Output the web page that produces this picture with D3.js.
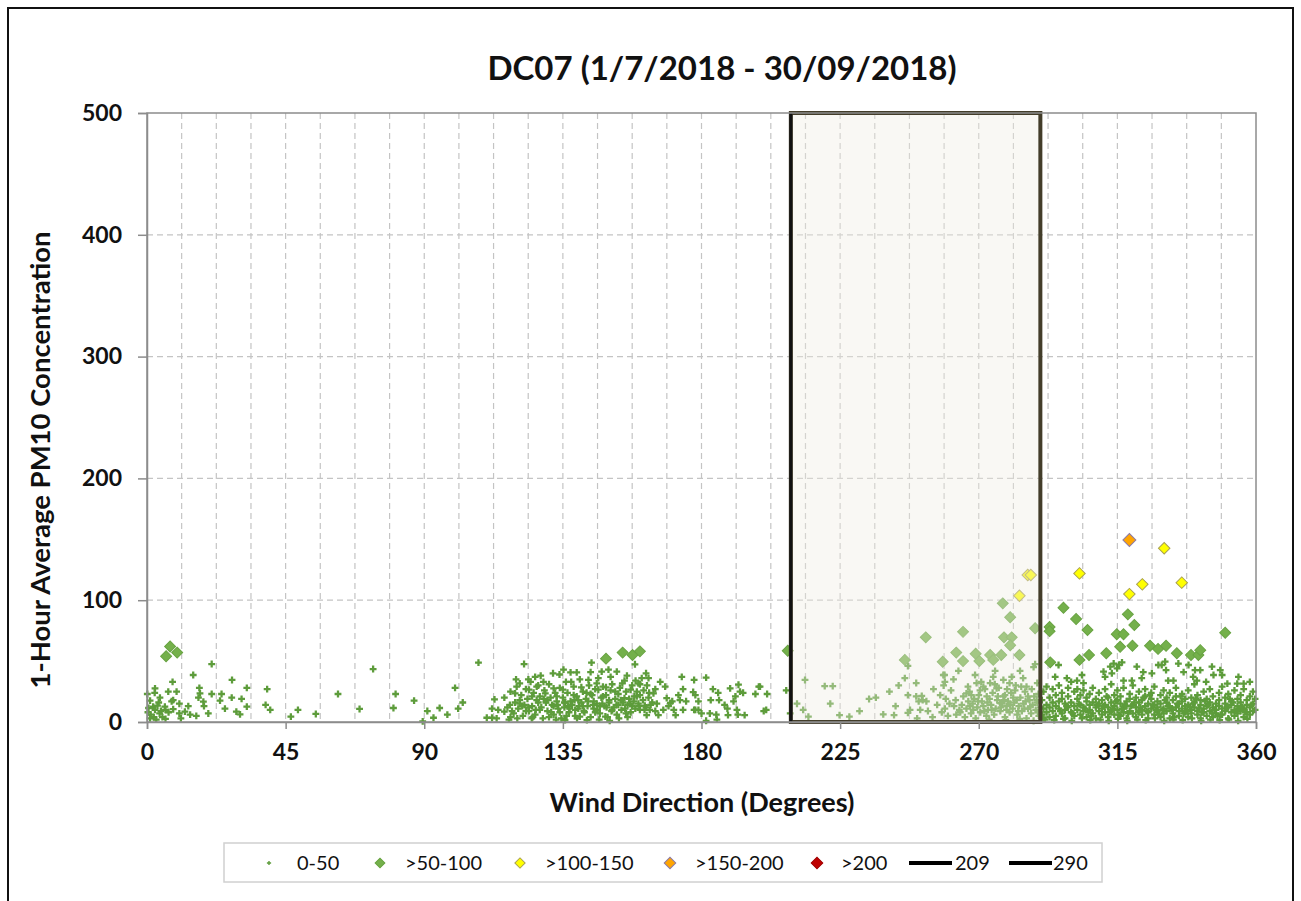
<!DOCTYPE html>
<html>
<head>
<meta charset="utf-8">
<script src="https://cdn.jsdelivr.net/npm/d3@7/dist/d3.min.js"></script>
<style>
  body { margin: 0; background: #fff; }
  svg { display: block; font-family: Lato, "Open Sans", sans-serif; }
</style>
</head>
<body>
<div id="chart"></div>
<script>
// Canvas and plot area
const width = 1301;
const height = 901;
const plot = { left: 147, right: 1256, top: 113, bottom: 722 };

// Tick values and labels
const xTicks = [0, 45, 90, 135, 180, 225, 270, 315, 360];
const yTicks = [0, 100, 200, 300, 400, 500];
const xGridStep = 11.25;

// Wind direction window (degrees)
const windowStart = 209;
const windowEnd = 290;

// PM10 readings as [wind direction, concentration], one array per band
const pts0to50 = [
  // 0 - 110 degrees
  [21,47.6],[15,38.6],[8.3,33],[27.6,34.5],[17,28],[32.4,28],[39,27],[62,23],[73.4,43.5],[80.7,23],
  [86.7,17.5],[91,9],[93,3.5],[95,11.5],[89.5,0.5],[69,10.7],[80,11.5],[54.8,6.6],[49,10],[46.7,4.4],
  [38.5,14],[40,10],[30.7,19],[32.4,12.6],[30.2,6.3],[29,8.5],[27.5,20],[24.2,23],[23.7,17.5],[25.3,11],
  [21,23],[19.9,7],[18.3,16.7],[18.5,13],[16,5],[17.2,23.5],[16.7,20],[13.4,13],[12.3,8.5],[10.5,15],
  [10.5,7],[8.5,18],[8.5,10.5],[6.9,25],[9.6,25],[8,17],[5.8,12.6],[4.2,20],[2.6,27.6],[2.5,24],
  [0.1,23],[1,17.5],[2,12.6],[2.6,10],[2.2,4],[4.1,7],[1.2,6],[5,4],[4.5,9],[6,10],
  [3.4,13.5],[7,8],[0.5,11.5],[3,2],[1,3],[6,2.5],[11,3],[14,6],[0.3,8],[3.8,16],
  [97.5,6],[100,28],[101,11],[102.5,16],[107.6,48.7],
  // 110 - 209 degrees
  [110.3,3.5],[112,3.5],[112.8,18.6],[112,11],[114,10],[116,8.5],[117.8,14],[118,4],[119.5,23.5],[121,31.7],
  [122.4,47.6],[121,18],[121.8,13],[123,9],[123.8,35],[124,26.5],[125,21],[124.9,3],[126,37],[126.5,29],
  [127,16],[127.5,10],[128.7,33],[129.3,23.5],[130,18],[130.5,4],[132,27.6],[132,13],[133,21],[134,8],
  [133.9,39],[135.2,43],[135,26.5],[135.5,16],[135.7,1.6],[136.7,13],[137.5,40.8],[137.7,33],[138.5,22],[139,10],
  [139.5,40.8],[140,18],[140.5,4.5],[141,28.5],[141.5,13],[142.7,24],[143.3,34.5],[144,23],[144.3,48.7],[145,17],
  [145.5,8],[146,31.7],[146.5,26.5],[147,13],[147.6,41.3],[148,21],[148.8,4.5],[149,28.5],[150,18],[150.5,37],
  [151,10],[152,25],[152.5,41.3],[153,14],[154.3,31.7],[155,19.6],[155.5,7],[157,26.5],[157.5,13],[158.6,34],
  [159,21],[160,10],[158.4,47.4],
  [116,20],[117,12],[118,25],[119,7],[119.5,16],[120,29],[120.5,11],[121.5,22],[122,5],[122.5,14],
  [123,27],[123.5,19],[124,9],[124.5,33],[125,13],[125.5,24],[126,6],[126.5,18],[127,30],[127.5,21],
  [128,12],[128.5,3],[129,26],[129.5,16],[130,9],[130.5,31],[131,20],[131.5,14],[132,6],[132.5,24],
  [133,17],[133.5,11],[134,28],[134.5,3],[135,20],[135.5,12],[136,33],[136.5,24],[137,8],[137.5,17],
  [138,14],[138.5,29],[139,5],[139.5,21],[140,11],[140.5,35],[141,16],[141.5,25],[142,8],[142.5,19],
  [143,13],[143.5,30],[144,4],[144.5,22],[145,11],[145.5,27],[146,15],[146.5,36],[147,7],[147.5,20],
  [148,29],[148.5,13],[149,22],[149.5,4],[150,16],[150.5,26],[151,31],[151.5,12],[152,19],[152.5,6],
  [153,23],[153.5,28],[154,10],[154.5,16],[155,34],[155.5,25],[156,14],[156.5,19],[157,8],[157.5,30],
  [158,17],[158.5,11],[159,25],[159.5,15],[160,31],[161,18],[162,12],[163,24],[164,16],[165,9],
  [118.5,9],[121,15],[123.8,12],[126.2,10],[128.8,19],[131.2,8],[133.3,14],[135.8,16],[137.2,11],[138.8,18],
  [140.2,13],[141.8,9],[143.2,17],[144.8,14],[146.2,10],[147.8,15],[149.2,12],[150.8,9],[152.4,14],[153.8,18],
  [155.2,11],[156.8,15],[158.2,21],[159.8,13],[161.5,10],[163.5,14],[125.2,4],[132.8,2],[136.2,5],[139.6,3],
  [142.8,1.5],[146.8,2],[150.2,1],[153.2,3],[156,4],[120.2,3],[117.5,2],[113.5,3],[119.8,35],[127.8,38],
  [131.8,40],[144,41],[155.8,38],[149.8,43],[162,40],
  [159.5,31.7],[160.6,36],[162.8,36],[162.3,30],[161.2,26],[160,22],[162.8,20],[161.6,13.5],[163.2,10],[162.2,5.7],
  [164.4,23.5],[165,27],[165.5,15],[166.6,33],[166,5.7],[167.6,10],[168.2,29],[168.7,19.6],[169.3,13],[169.9,15.7],
  [170.5,17],[171,10],[171.6,5.7],[172.5,22],[173.6,37],[174,27],[174,10],[173,18],[175,17],[177.6,10],
  [177.6,34.5],[177.3,24.6],[178,22],[179,17],[178,10],[179,10],[180,7],[181.5,36.4],[181.5,1],[182.7,7],
  [183,18],[183.7,27],[184.8,6],[185,2],[185.4,24],[185.7,18],[187.5,14],[188.6,5.7],[188.4,11],[189.3,27.6],
  [190.4,17],[191,21],[191.5,10],[191.8,6],[192,30.6],[192.5,25],[193.5,24],[194,5.7],[197.5,23],[198.6,29],
  [199,29],[201.3,23],[200.2,9],[201,10],[207.5,26],[208.8,7],
  // 209 - 290 degrees (inside the window)
  [211,15],[213,10],[214.7,4.4],[213.6,34.5],[220,29.5],[222.6,29.5],[221.8,15],[224.8,5.7],[228,4.4],[231.3,9],
  [234.4,18.9],[236.6,20],[239,6.3],[242.5,5.7],[247,46],[246,36],[249.7,32],[247,22],[249.7,21],[251.5,21.5],
  [251.8,18],[247.7,10],[247,7.5],[251,10],[253,17],[255.3,27],[250.5,17],[258.9,38.6],[258.6,30],[259.3,19],
  [261.8,35],[263.4,42],[258.5,38.6],[259,33],[261,26],[262.5,18],[259,11],[260,5],[262.7,6],[263.7,10],
  [266,23.5],[266.6,17],[267.6,22],[268.8,38.6],[269.3,32],[270.4,26],[271.5,29],[272.6,21],[273.7,32],[274.7,37],
  [275.3,42],[275.8,27.6],[276.9,15.5],[278,34.5],[278.5,22],[279,10],[280,32],[280.7,37],[281.8,26],[282.3,18],
  [283.4,42],[284.4,36],[285.5,29],[286,21],[286.7,12.6],[287.8,45],[288.3,47.5],[289,32],[289.4,23],
  [264,8],[264.5,14],[265,21],[265.5,4],[266,11],[267,25],[267.5,7],[268,15],[268.5,19],[269,3],
  [269.5,12],[270,22],[270.5,8],[271,17],[271.5,13],[272,27],[272.5,5],[273,10],[273.5,19],[274,14],
  [274.5,24],[275,6],[275.5,11],[276,18],[276.5,28],[277,9],[277.5,15],[278,21],[278.5,4],[279,13],
  [279.5,17],[280,8],[280.5,24],[281,11],[281.5,16],[282,30],[282.5,6],[283,13],[283.5,20],[284,9],
  [284.5,15],[285,25],[285.5,3],[286,11],[286.5,18],[287,7],[287.5,14],[288,21],[288.5,10],[289,16],
  [289.5,5],[290,12],[266.5,29],[270.8,33],[275.2,31],[279.2,27],[283.8,29],[287.2,27],[268.2,10],[272.8,16],
  [277.2,12],[281.2,20],[285.2,17],[289.2,8],[273.4,2],[278.8,1.5],[283.3,2.5],[287.8,1],[262,13],[257.5,22],
  [256.5,14],[258,8],[260.5,15],[255,4],[253.5,9],[244,30],[241,25],[243,13],[250,3],
  [267.2,13],[271.8,9],[276.2,21],[280.2,14],[284.8,11],[288.8,18],[269.8,17],[274.2,10],[278.2,18],[282.8,9],
  // 290 - 360 degrees
  [295.9,46.8],[294.8,37],[298.6,36],[301.9,34],[303.5,38.6],[304,32],[310.5,41.3],[311,37],[312.7,45.4],[313.8,48],
  [314.9,44],[315.5,46.8],[316.5,48.9],[313.2,40],[317,34],[319.7,34],[321.3,45.4],[323.4,41],[322.9,36],[326.2,40],
  [328.3,46.8],[329.4,46.8],[330.5,49.5],[330.8,42.6],[331.5,34],[333.2,34],[334.8,48],[336.5,41],[338.1,46.8],[340.2,42.6],
  [341.9,42.6],[345.7,45.4],[346.2,38.6],[348.4,42.6],[349,38.6],[343.8,33],[354.3,37],[358,33],[356,31.5],[353.9,31.5],
  [350.7,31.5],[339.6,37],[340.8,34],
  [290.5,18],[290.5,6],[291,25],[291,11],[291,3],[292,14],[292,29],[292,8],[293,20],[293,4],
  [293,12],[294,16],[294,27],[294,9],[295,22],[295,5],[295,13],[296,11],[296,30],[296,17],
  [297,7],[297,19],[297,24],[298,15],[298,3],[298,10],[299,21],[299,28],[299,12],[300,8],
  [300,16],[300,33],[301,13],[301,25],[301,5],[302,19],[302,10],[302,27],[303,6],[303,14],
  [303,22],[304,12],[304,26],[304,9],[305,17],[305,4],[305,20],[306,10],[306,23],[306,14],
  [307,28],[307,7],[307,16],[308,12],[308,19],[308,3],[309,24],[309,9],[309,15],[310,6],
  [310,18],[310,11],[311,14],[311,27],[311,8],[312,20],[312,4],[312,12],[313,9],[313,16],
  [313,31],[314,13],[314,22],[314,6],[315,18],[315,10],[315,26],[316,5],[316,15],[316,21],
  [317,11],[317,28],[317,8],[318,17],[318,3],[318,13],[319,23],[319,9],[319,19],[320,7],
  [320,14],[320,30],[321,12],[321,20],[321,4],[322,16],[322,25],[322,9],[323,10],[323,6],
  [323,18],[324,21],[324,13],[324,27],[325,8],[325,15],[325,3],[326,19],[326,11],[326,24],
  [327,14],[327,6],[327,29],[328,9],[328,17],[328,12],[329,22],[329,4],[329,15],[330,11],
  [330,26],[330,7],[331,16],[331,9],[331,20],[332,13],[332,3],[332,24],[333,7],[333,18],
  [333,10],[334,21],[334,12],[334,28],[335,5],[335,15],[335,9],[336,17],[336,23],[336,11],
  [337,8],[337,13],[337,19],[338,26],[338,4],[338,14],[339,10],[339,20],[339,7],[340,16],
  [340,12],[340,31],[341,6],[341,22],[341,9],[342,14],[342,18],[342,3],[343,11],[343,25],
  [343,8],[344,19],[344,5],[344,13],[345,9],[345,16],[345,27],[346,12],[346,21],[346,4],
  [347,7],[347,15],[347,10],[348,24],[348,13],[348,18],[349,6],[349,11],[349,29],[350,15],
  [350,9],[350,20],[351,12],[351,3],[351,23],[352,8],[352,17],[352,14],[353,26],[353,10],
  [353,5],[354,13],[354,19],[354,7],[355,9],[355,22],[355,16],[356,11],[356,4],[356,27],
  [357,18],[357,8],[357,14],[358,6],[358,21],[358,12],[359,15],[359,9],[359,25],[359.7,10],
  [359.7,19],[310.5,13],[312.5,8],[314.5,17],[316.5,11],[318.5,7],[320.5,16],[322.5,12],[324.5,9],[326.5,14],
  [328.5,6],[330.5,18],[332.5,11],[334.5,15],[336.5,7],[338.5,12],[340.5,19],[342.5,8],[344.5,14],[346.5,10],
  [348.5,6],[350.5,12],[352.5,16],[354.5,11],[356.5,8],[358.5,14],[296.5,9],[298.5,13],[300.5,7],[302.5,15],
  [304.5,11],[306.5,5],[308.5,14],[311.5,21],[315.5,6],[319.5,13],[323.5,20],[327.5,10],[331.5,13],[335.5,21],
  [339.5,15],[343.5,17],[347.5,5],[351.5,19],[355.5,12],[341.5,11],[333.5,4],[325.5,22],[317.5,14],
  [291.5,2],[294.5,1.5],[297.5,2.5],[300.2,1],[303.5,3],[306.2,1.5],[309.5,2],[312.2,1],[315.2,2.5],[318.2,1],
  [321.5,2],[324.2,1.5],[327.2,3],[330.2,1],[333.2,2],[336.2,1.5],[339.2,3],[342.2,1],[345.2,2],[348.2,1.5],
  [351.2,2],[354.2,1],[357.2,2.5],[313.6,11],[321.8,8],[329.6,10],[337.6,9],[345.8,7],[353.6,9],[305.6,8]
];

const pts50to100 = [
  [7.5,62],[6.2,54],[9.8,57],[149,52],[154.4,57],[157.6,55],[160,58],[208,58.5],
  [252.8,69.5],[246,51],[258.3,49.5],[262.7,57],[264.9,50],[264.9,74],[269,56],[270.2,50],
  [273.7,55],[274.7,51],[277.3,55],[278.2,69.5],[280.7,69.5],[280.2,63],[283.2,55],[277.8,97.4],
  [280.2,86],[288.3,77],[293,78],[293,74.6],[293.2,49],[297.5,93.8],[301.6,84.6],[305.3,75.5],
  [302.7,51],[305.8,55],[311.4,56.4],[314.8,72],[317,72],[318.4,88.4],[320.5,79.6],[315.9,61.8],
  [319.9,62.6],[325.6,62.6],[328.2,60],[330.8,62.6],[334.3,56.4],[338.9,55],[341.3,55],[341.9,59],
  [350,73.3]
];

const pts100to150 = [
  [283.2,103.7],[285.9,120.7],[286.9,120.7],[302.7,122],[318.9,105],[323.1,113],[330.2,142.6],[335.9,114.4]
];

const pts150to200 = [[318.9,149.4]];
const pts200plus = [];

// Legend labels
const legendLabels = ["0-50", ">50-100", ">100-150", ">150-200", ">200", "209", "290"];

// Marker styles per band
const bands = [
  { name: "0-50", data: pts0to50, shape: "cross", size: 26, fill: "#5d9c3b", stroke: "none" },
  { name: ">50-100", data: pts50to100, shape: "diamond", size: 60, fill: "#74b04b", stroke: "#68a342" },
  { name: ">100-150", data: pts100to150, shape: "diamond", size: 66, fill: "#ffff00", stroke: "#a8a050" },
  { name: ">150-200", data: pts150to200, shape: "diamond", size: 84, fill: "#ffa500", stroke: "#8a7aa8" },
  { name: ">200", data: pts200plus, shape: "diamond", size: 84, fill: "#c00000", stroke: "#a00000" }
];

const svg = d3.select("#chart")
  .append("svg")
  .attr("width", width)
  .attr("height", height);

// Outer frame
svg.append("rect")
  .attr("x", 8).attr("y", 8)
  .attr("width", 1285).attr("height", 910)
  .attr("fill", "#fff")
  .attr("stroke", "#111")
  .attr("stroke-width", 2);

// Scales
const x = d3.scaleLinear().domain([0, 360]).range([plot.left, plot.right]);
const y = d3.scaleLinear().domain([0, 500]).range([plot.bottom, plot.top]);

// Dashed gridlines
const gridX = d3.range(xGridStep, 360, xGridStep);
svg.append("g").selectAll("line")
  .data(gridX)
  .enter().append("line")
  .attr("x1", d => x(d)).attr("x2", d => x(d))
  .attr("y1", plot.top).attr("y2", plot.bottom)
  .attr("stroke", "#c4c4c4")
  .attr("stroke-width", 1.2)
  .attr("stroke-dasharray", "6,4");

svg.append("g").selectAll("line")
  .data(yTicks.filter(d => d > 0 && d < 500))
  .enter().append("line")
  .attr("x1", plot.left).attr("x2", plot.right)
  .attr("y1", d => y(d)).attr("y2", d => y(d))
  .attr("stroke", "#c4c4c4")
  .attr("stroke-width", 1.2)
  .attr("stroke-dasharray", "6,4");

// Marker path builders
const crossPath = d3.symbol().type(d3.symbolCross);
const squarePath = d3.symbol().type(d3.symbolSquare);

bands.forEach(band => {
  const g = svg.append("g");
  g.selectAll("path")
    .data(band.data)
    .enter().append("path")
    .attr("d", band.shape === "cross" ? crossPath.size(band.size)() : squarePath.size(band.size)())
    .attr("transform", d => `translate(${x(d[0])},${y(d[1])})` + (band.shape === "diamond" ? " rotate(45)" : ""))
    .attr("fill", band.fill)
    .attr("stroke", band.stroke)
    .attr("stroke-width", 1);
});

// Wind direction window overlay
svg.append("rect")
  .attr("x", x(windowStart))
  .attr("y", plot.top)
  .attr("width", x(windowEnd) - x(windowStart))
  .attr("height", plot.bottom - plot.top)
  .attr("fill", "#efece2")
  .attr("fill-opacity", 0.38)
  .attr("stroke", "#433d2a")
  .attr("stroke-width", 4);

svg.append("line")
  .attr("x1", x(windowStart)).attr("x2", x(windowStart))
  .attr("y1", plot.top).attr("y2", plot.bottom)
  .attr("stroke", "#111")
  .attr("stroke-width", 3);

// Plot frame (gray)
svg.append("rect")
  .attr("x", plot.left).attr("y", plot.top)
  .attr("width", plot.right - plot.left)
  .attr("height", plot.bottom - plot.top)
  .attr("fill", "none")
  .attr("stroke", "#8c8c8c")
  .attr("stroke-width", 1.5);

// Axes
const xAxis = d3.axisBottom(x).tickValues(xTicks).tickSize(7).tickPadding(10);
const yAxis = d3.axisLeft(y).tickValues(yTicks).tickSize(9).tickPadding(16);

const gx = svg.append("g")
  .attr("transform", `translate(0,${plot.bottom})`)
  .call(xAxis);
const gy = svg.append("g")
  .attr("transform", `translate(${plot.left},0)`)
  .call(yAxis);

[gx, gy].forEach(g => {
  g.select(".domain").attr("stroke", "#8c8c8c").attr("stroke-width", 1.5);
  g.selectAll(".tick line").attr("stroke", "#8c8c8c").attr("stroke-width", 1.5);
  g.selectAll(".tick text")
    .attr("fill", "#111")
    .style("font-family", "Lato, sans-serif")
    .style("font-weight", "bold")
    .style("font-size", "23px");
});
gx.selectAll(".tick text").attr("dy", "0.9em");

// Title and axis titles
svg.append("text")
  .attr("x", 722).attr("y", 80)
  .attr("text-anchor", "middle")
  .style("font-weight", "bold")
  .style("font-size", "33px")
  .attr("fill", "#111")
  .text("DC07 (1/7/2018 - 30/09/2018)");

svg.append("text")
  .attr("x", 702).attr("y", 812)
  .attr("text-anchor", "middle")
  .style("font-weight", "bold")
  .style("font-size", "27px")
  .attr("fill", "#111")
  .text("Wind Direction (Degrees)");

svg.append("text")
  .attr("transform", "translate(50,460) rotate(-90)")
  .attr("text-anchor", "middle")
  .style("font-weight", "bold")
  .style("font-size", "27.5px")
  .attr("fill", "#111")
  .text("1-Hour Average PM10 Concentration");

// Legend
const legend = svg.append("g");
legend.append("rect")
  .attr("x", 224).attr("y", 843)
  .attr("width", 878).attr("height", 39)
  .attr("fill", "#fff")
  .attr("stroke", "#d0d0d0")
  .attr("stroke-width", 1.5);

const legendMarkerX = [269, 380, 520, 670, 817];
const legendTextX = [297, 405, 545, 695, 841, 955, 1053];
const legendY = 863;

bands.forEach((band, i) => {
  const size = band.shape === "cross" ? 10 : band.size * 0.8;
  legend.append("path")
    .attr("d", band.shape === "cross" ? crossPath.size(size)() : squarePath.size(size)())
    .attr("transform", `translate(${legendMarkerX[i]},${legendY})` + (band.shape === "diamond" ? " rotate(45)" : ""))
    .attr("fill", band.fill)
    .attr("stroke", band.stroke)
    .attr("stroke-width", 1);
});

[[909, 952], [1009, 1052]].forEach(seg => {
  legend.append("line")
    .attr("x1", seg[0]).attr("x2", seg[1])
    .attr("y1", legendY).attr("y2", legendY)
    .attr("stroke", "#000")
    .attr("stroke-width", 4);
});

legend.selectAll("text.lbl")
  .data(legendLabels)
  .enter().append("text")
  .attr("class", "lbl")
  .attr("x", (d, i) => legendTextX[i])
  .attr("y", legendY)
  .attr("dy", "0.35em")
  .style("font-size", "20px")
  .attr("fill", "#111")
  .text(d => d);
</script>
</body>
</html>
